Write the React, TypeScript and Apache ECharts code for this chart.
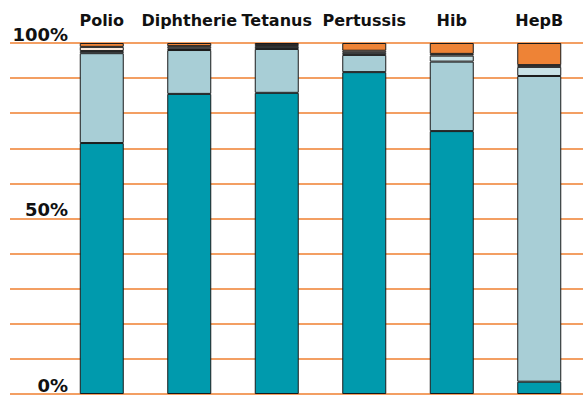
import React, { useEffect, useRef } from "react";
import * as echarts from "echarts";

const categories = ["Polio", "Diphtherie", "Tetanus", "Pertussis", "Hib", "HepB"];
const teal = [71.5, 85.5, 85.8, 91.7, 74.9, 3.5];
const lightBlue = [25.6, 12.5, 12.5, 4.9, 19.8, 87.1];
const paleBlue = [0.6, 0.5, 0.6, 0.6, 1.7, 2.6];
const white = [1.2, 0.6, 0.5, 0.6, 0.5, 0.5];
const orange = [1.1, 0.9, 0.6, 2.2, 3.1, 6.3];
const yTicks = [0, 50, 100];

export default function App() {
  const ref = useRef<HTMLDivElement>(null);
  useEffect(() => {
    const chart = echarts.init(ref.current!, null, { renderer: "svg" });
    const font = "'DejaVu Sans', sans-serif";
    const seg = (name: string, data: number[], color: string) => ({
      name,
      type: "bar",
      stack: "total",
      xAxisIndex: 1,
      yAxisIndex: 1,
      barWidth: 44,
      data,
      itemStyle: { color, borderColor: "#1a1a1a", borderWidth: 1 },
    });
    chart.setOption({
      animation: false,
      grid: [
        { left: 10, right: 0, top: 43, bottom: 2 },
        { left: 58, width: 529, top: 43, bottom: 2 },
      ],
      xAxis: [
        { gridIndex: 0, type: "value", min: 0, max: 1, show: false },
        {
          gridIndex: 1,
          type: "category",
          position: "top",
          data: categories,
          axisLine: { show: false },
          axisTick: { show: false },
          axisLabel: {
            interval: 0,
            color: "#111",
            fontFamily: font,
            fontWeight: "bold",
            fontSize: 16,
            margin: 15,
          },
        },
      ],
      yAxis: [
        {
          gridIndex: 0,
          type: "value",
          min: 0,
          max: 100,
          interval: 10,
          axisLine: { show: false },
          axisTick: { show: false },
          axisLabel: { show: false },
          splitLine: { lineStyle: { color: "#ef7f2f", width: 1.5 } },
        },
        {
          gridIndex: 1,
          type: "value",
          min: 0,
          max: 100,
          interval: 50,
          axisLine: { show: false },
          axisTick: { show: false },
          splitLine: { show: false },
          axisLabel: {
            margin: -10,
            verticalAlign: "bottom",
            color: "#111",
            fontFamily: font,
            fontWeight: "bold",
            fontSize: 18,
            formatter: (v: number) => (yTicks.includes(v) ? v + "%" : ""),
          },
        },
      ],
      series: [
        seg("teal", teal, "#009aad"),
        seg("lightBlue", lightBlue, "#a8ced6"),
        seg("paleBlue", paleBlue, "#c9e2e7"),
        seg("white", white, "#fbe9da"),
        seg("orange", orange, "#ee8336"),
      ],
    });
    return () => chart.dispose();
  }, []);
  return (
    <div
      ref={ref}
      style={{ position: "fixed", left: 0, top: 0, width: 583, height: 396, background: "#fff" }}
    />
  );
}
